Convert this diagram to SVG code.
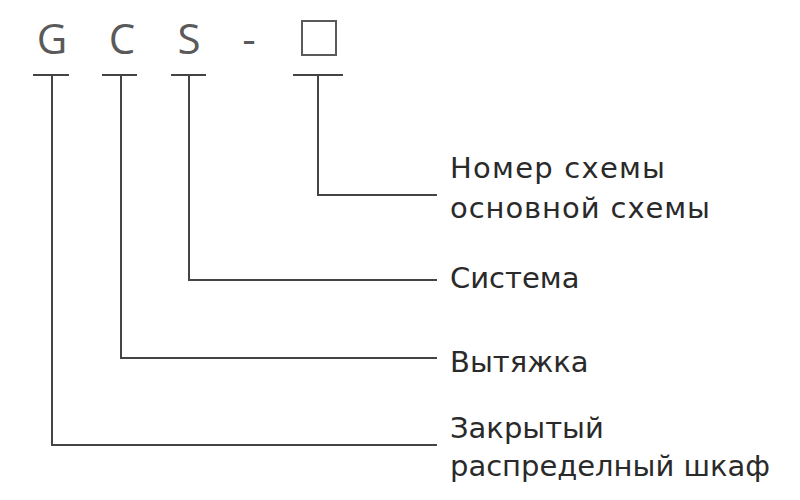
<svg xmlns="http://www.w3.org/2000/svg" width="800" height="500" viewBox="0 0 800 500">
<style>
.code{font-family:"Open Sans","DejaVu Sans",sans-serif;font-size:42px;fill:#5a5a5a;text-anchor:middle}
.lbl{font-family:"DejaVu Sans","Liberation Sans",sans-serif;font-size:29px;fill:#2a2a2a}
.ln{stroke:#444;stroke-width:2;fill:none}
</style>
<rect width="800" height="500" fill="#fff"/>
<g id="code">
<text class="code" x="52" y="54">G</text>
<text class="code" x="122" y="54">C</text>
<text class="code" x="189" y="54">S</text>
<text class="code" x="249" y="54">-</text>
<rect x="302" y="21" width="34" height="34" fill="none" stroke="#5a5a5a" stroke-width="2"/>
</g>
<g id="connectors">
<path class="ln" d="M33 75H69M52 75V445H437"/>
<path class="ln" d="M102 75H137M121 75V358H437"/>
<path class="ln" d="M171 75H206M189 75V280H437"/>
<path class="ln" d="M293 75H343M318 75V195H437"/>
</g>
<g id="n-scheme"><text class="lbl" x="450" y="178" textLength="215">Номер схемы</text><text class="lbl" x="450" y="218" textLength="260">основной схемы</text></g>
<g id="n-system"><text class="lbl" x="450" y="288">Система</text></g>
<g id="n-hood"><text class="lbl" x="450" y="372">Вытяжка</text></g>
<g id="n-cabinet"><text class="lbl" x="450" y="438">Закрытый</text><text class="lbl" x="450" y="476" textLength="320">распределный шкаф</text></g>
</svg>
